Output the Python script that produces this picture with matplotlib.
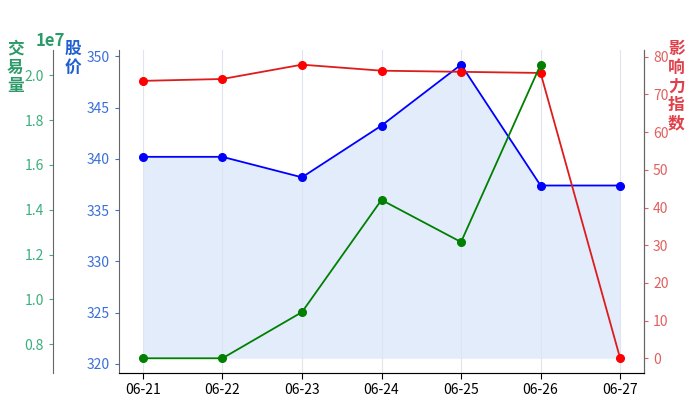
import matplotlib
matplotlib.use('Agg')
import matplotlib.pyplot as plt
import numpy as np

plt.rcParams['font.family'] = ['Noto Sans CJK SC', 'DejaVu Sans']
plt.rcParams['axes.unicode_minus'] = False

dates = ['06-21', '06-22', '06-23', '06-24', '06-25', '06-26', '06-27']
price = [340.2, 340.2, 338.2, 343.25, 349.2, 337.4, 337.4]
influence = [73.6, 74.1, 77.9, 76.3, 76.0, 75.7, 0.0]
volume = [7.37e6, 7.37e6, 9.43e6, 1.444e7, 1.256e7, 2.048e7]

x = np.arange(len(dates))

fig = plt.figure(figsize=(7, 4.2), dpi=100)
ax = fig.add_axes([0.170, 0.112, 0.750, 0.769])

# price (left axis) with filled area
ax.plot(x, price, color='blue', marker='o', markersize=5.5, linewidth=1.3, zorder=3)
ax.fill_between(x, price, min(price) * 0.95, color='#d3e2f8', alpha=0.65, linewidth=0)
ax.set_xlim(-0.3, 6.3)
ax.set_xticks(x)
ax.set_xticklabels(dates)
ax.grid(axis='x', color='#dfe5ee', linewidth=0.8)
ax.grid(axis='y', visible=False)
ax.tick_params(axis='x', colors='black', labelsize=10, length=4)
ax.tick_params(axis='y', colors='#3a6fd8', labelsize=10, length=3)
for lab in ax.get_xticklabels():
    lab.set_color('black')
ax.spines['top'].set_visible(False)
for s in ['left', 'bottom', 'right']:
    ax.spines[s].set_color('#666666')

# influence index (right axis)
ax2 = ax.twinx()
ax2.plot(x, influence, color='#dd1c1c', marker='o', markersize=5.5, linewidth=1.3,
         markerfacecolor='red', markeredgecolor='red')
ax2.set_yticks([0, 10, 20, 30, 40, 50, 60, 70, 80])
ax2.tick_params(axis='y', colors='#e06060', labelsize=10, length=3)
ax2.spines['top'].set_visible(False)
ax2.spines['left'].set_visible(False)
ax2.spines['right'].set_color('#666666')

# trading volume (outer left axis)
ax3 = ax.twinx()
ax3.plot(x[:len(volume)], volume, color='green', marker='o', markersize=5.5, linewidth=1.3)
ax3.spines['left'].set_position(('outward', 47.5))
ax3.spines['left'].set_visible(True)
ax3.spines['left'].set_color('#666666')
for s in ['top', 'right', 'bottom']:
    ax3.spines[s].set_visible(False)
ax3.yaxis.set_label_position('left')
ax3.yaxis.tick_left()
ax3.set_yticks([0.8e7, 1.0e7, 1.2e7, 1.4e7, 1.6e7, 1.8e7, 2.0e7])
ax3.tick_params(axis='y', colors='#3cae7c', labelsize=10, length=3)
off = ax3.yaxis.get_offset_text()
off.set_fontsize(12)
off.set_fontweight('bold')
off.set_color('#2e9a6a')
off.set_horizontalalignment('center')
off.set_x(-0.13)

# axis titles as stacked characters
fig.text(0.022, 0.905, '交\n易\n量', color='#2e9a6a', fontsize=12, fontweight='bold',
         ha='center', va='top', linespacing=1.05)
fig.text(0.104, 0.905, '股\n价', color='#1f5fd0', fontsize=12, fontweight='bold',
         ha='center', va='top', linespacing=1.05)
fig.text(0.966, 0.905, '影\n响\n力\n指\n数', color='#e0404a', fontsize=12, fontweight='bold',
         ha='center', va='top', linespacing=1.05)

plt.savefig('out.png', dpi=100, facecolor='white')
plt.close()
